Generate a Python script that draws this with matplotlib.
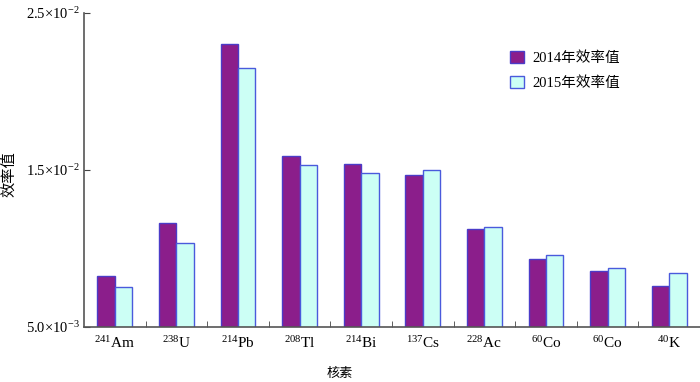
import matplotlib
matplotlib.use("Agg")
import matplotlib.pyplot as plt
import numpy as np
from matplotlib.patches import Patch

plt.rcParams['font.family'] = ['Liberation Serif', 'Noto Sans CJK SC']
plt.rcParams['mathtext.fontset'] = 'custom'
plt.rcParams['mathtext.rm'] = 'Liberation Serif'
plt.rcParams['mathtext.it'] = 'Liberation Serif:italic'

categories = [r'$^{241}$Am', r'$^{238}$U', r'$^{214}$Pb', r'$^{208}$Tl', r'$^{214}$Bi',
              r'$^{137}$Cs', r'$^{228}$Ac', r'$^{60}$Co', r'$^{60}$Co', r'$^{40}$K']
eff_2014 = [0.00825, 0.01160, 0.02303, 0.01591, 0.01536, 0.01470, 0.01122, 0.00935, 0.00859, 0.00761]
eff_2015 = [0.00755, 0.01033, 0.02150, 0.01532, 0.01483, 0.01498, 0.01137, 0.00957, 0.00874, 0.00842]
ytick_vals = [0.005, 0.015, 0.025]
ytick_labels = [r'5.0$\times$10$^{-3}$', r'1.5$\times$10$^{-2}$', r'2.5$\times$10$^{-2}$']
series_names = ['2014年效率值', '2015年效率值']

fig = plt.figure(figsize=(7.0, 3.82), dpi=100)
ax = fig.add_axes([0.12, 0.144, 0.88, 0.822])

x = np.arange(len(categories))
w = 0.284
c1, e1 = '#8B1E8B', '#4B3CC8'
c2, e2 = '#CCFFF5', '#4A5ADC'
ax.bar(x - w/2, eff_2014, width=w, color=c1, edgecolor=e1, linewidth=1.0)
ax.bar(x + w/2, eff_2015, width=w, color=c2, edgecolor=e2, linewidth=1.0)

ax.set_xlim(-0.5, 9.5)
ax.set_ylim(0.005, 0.025)
ax.set_yticks(ytick_vals)
ax.set_yticklabels(ytick_labels, fontsize=10.5)
ax.set_xticks(x)
ax.set_xticklabels(categories, fontsize=11)
ax.set_xticks(np.arange(0.5, 10, 1.0), minor=True)
ax.tick_params(axis='x', which='major', length=0, pad=6)
ax.tick_params(axis='x', which='minor', direction='in', length=4, color='#444444')
ax.tick_params(axis='y', direction='in', length=4, color='#444444', pad=3)

for s in ['top', 'right']:
    ax.spines[s].set_visible(False)
for s in ['left', 'bottom']:
    ax.spines[s].set_color('#555555')
    ax.spines[s].set_linewidth(1.2)

fig.text(0.012, 0.543, '效率值', rotation=90, ha='center', va='center',
         fontsize=11, family=['Noto Sans CJK SC'])
fig.text(0.485, 0.021, '核素', ha='center', va='center', fontsize=9.5,
         family=['Noto Sans CJK SC'])

handles = [Patch(facecolor=c1, edgecolor=e1, linewidth=1.0),
           Patch(facecolor=c2, edgecolor=e2, linewidth=1.0)]
ax.legend(handles, series_names, loc='upper left', bbox_to_anchor=(0.671, 0.92),
          frameon=False, handlelength=0.9, handleheight=0.9, handletextpad=0.6,
          labelspacing=0.75, prop={'family': ['Liberation Serif', 'Noto Sans CJK SC'], 'size': 10.5})

fig.savefig('out.png', dpi=100)
